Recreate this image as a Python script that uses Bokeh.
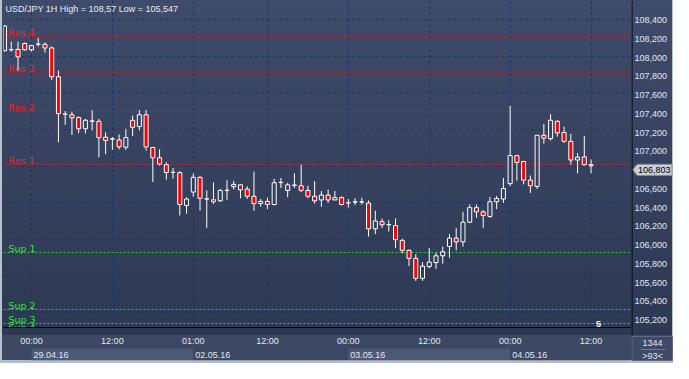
import numpy as np
from bokeh.plotting import figure
from bokeh.models import Range1d, FixedTicker, ColumnDataSource, Grid
from bokeh.layouts import column, row
from bokeh.embed import file_html
from bokeh.resources import INLINE
from bokeh.core.properties import value

# ---------------- data ----------------
opens = [108.060, 108.070, 108.074, 108.139, 108.070, 108.130, 108.130, 108.090, 107.775, 107.366,
         107.360, 107.330, 107.207, 107.290, 107.289, 107.115, 107.095, 107.085, 107.006, 107.300,
         107.231, 107.360, 107.003, 106.890, 106.815, 106.730, 106.728, 106.370, 106.516, 106.677,
         106.440, 106.432, 106.421, 106.534, 106.575, 106.595, 106.548, 106.470, 106.390, 106.414,
         106.380, 106.620, 106.534, 106.590, 106.585, 106.534, 106.470, 106.430, 106.483, 106.430,
         106.455, 106.397, 106.407, 106.407, 106.397, 106.115, 106.193, 106.159, 106.150, 105.989,
         105.880, 105.792, 105.574, 105.703, 105.746, 105.820, 105.922, 106.013, 105.972, 106.187,
         106.346, 106.300, 106.250, 106.410, 106.440, 106.608, 106.914, 106.850, 106.646, 106.578,
         107.136, 107.100, 107.289, 107.166, 107.070, 106.866, 106.900, 106.815]
highs = [108.340, 108.160, 108.159, 108.150, 108.125, 108.200, 108.150, 108.105, 107.843, 107.400,
         107.394, 107.343, 107.315, 107.410, 107.315, 107.170, 107.118, 107.146, 107.207, 107.350,
         107.410, 107.410, 107.009, 106.983, 106.840, 106.780, 106.744, 106.458, 106.720, 106.687,
         106.534, 106.620, 106.550, 106.646, 106.636, 106.600, 106.580, 106.740, 106.440, 106.455,
         106.660, 106.670, 106.618, 106.720, 106.815, 106.585, 106.636, 106.527, 106.544, 106.527,
         106.470, 106.440, 106.450, 106.455, 106.425, 106.312, 106.227, 106.210, 106.227, 106.006,
         105.887, 105.836, 105.751, 105.904, 105.853, 105.920, 106.057, 106.125, 106.300, 106.380,
         106.380, 106.320, 106.465, 106.475, 106.670, 107.458, 106.920, 106.856, 106.697, 107.136,
         107.258, 107.366, 107.300, 107.230, 107.152, 106.942, 107.129, 106.873]
lows = [108.050, 108.050, 107.843, 108.060, 108.050, 108.105, 108.040, 107.740, 107.060, 107.250,
        107.140, 107.159, 107.156, 107.190, 106.897, 106.930, 106.976, 106.983, 106.976, 107.129,
        107.190, 106.968, 106.626, 106.805, 106.652, 106.662, 106.260, 106.278, 106.465, 106.312,
        106.125, 106.387, 106.406, 106.432, 106.544, 106.448, 106.440, 106.312, 106.356, 106.330,
        106.370, 106.560, 106.460, 106.560, 106.516, 106.448, 106.390, 106.356, 106.397, 106.430,
        106.370, 106.346, 106.373, 106.380, 106.030, 106.057, 106.125, 106.085, 105.904, 105.846,
        105.707, 105.547, 105.547, 105.683, 105.677, 105.734, 105.800, 105.880, 105.920, 106.177,
        106.234, 106.125, 106.234, 106.330, 106.397, 106.580, 106.640, 106.600, 106.506, 106.550,
        107.044, 107.078, 107.121, 107.054, 106.815, 106.720, 106.805, 106.720]
closes = [108.330, 108.072, 107.993, 108.070, 108.115, 108.132, 108.090, 107.775, 107.373, 107.368,
          107.326, 107.207, 107.300, 107.292, 107.110, 107.080, 107.097, 107.010, 107.111, 107.223,
          107.360, 107.009, 106.890, 106.822, 106.730, 106.732, 106.380, 106.440, 106.677, 106.448,
          106.442, 106.410, 106.534, 106.536, 106.600, 106.540, 106.470, 106.390, 106.414, 106.380,
          106.618, 106.622, 106.595, 106.592, 106.534, 106.470, 106.420, 106.483, 106.430, 106.455,
          106.380, 106.399, 106.409, 106.409, 106.115, 106.200, 106.159, 106.161, 105.996, 105.880,
          105.792, 105.574, 105.707, 105.751, 105.820, 105.864, 106.013, 105.972, 106.187, 106.346,
          106.300, 106.260, 106.410, 106.445, 106.555, 106.914, 106.840, 106.646, 106.585, 107.136,
          107.105, 107.300, 107.162, 107.070, 106.866, 106.897, 106.815, 106.803]

tick_bars = [4, 16, 28, 39, 51, 63, 75, 87]
tick_labels = ["00:00", "12:00", "01:00", "12:00", "00:00", "12:00", "00:00", "12:00"]
day_labels = ["29.04.16", "02.05.16", "03.05.16", "04.05.16"]
day_start_bars = [4, 28, 51, 75]

res_names = ["Res 4", "Res 3", "Res 2", "Res 1"]
res_levels = [108.220, 107.826, 107.400, 106.822]
sup_names = ["Sup 1", "Sup 2", "Sup 3", "Sup 4"]
sup_levels = [105.860, 105.230, 105.085, 104.990]

price_ticks = [105.2, 105.4, 105.6, 105.8, 106.0, 106.2, 106.4, 106.6, 106.8,
               107.0, 107.2, 107.4, 107.6, 107.8, 108.0, 108.2, 108.4]
grid_prices = [105.2, 105.6, 106.0, 106.4, 106.8, 107.2, 107.6, 108.0, 108.4]

title_text = "USD/JPY 1H High = 108,57 Low = 105,547"
bars_total = "1344"
bars_visible = ">93<"
marker_text = "5"

# ---------------- layout constants ----------------
W_MAIN = 631      # left border + plot frame
W_SCALE = 42      # price scale column
H_MAIN = 348      # frame + time row
FRAME_H = 335
H_DATE = 15
LEFT = 3
x_lo, x_hi = -0.15, 93.0
y_lo, y_hi = 105.037, 108.608

TXT = "#e2e7f0"
FONT = "Liberation Sans"
GRID = "#1d3663"


def fmt(v):
    return f"{v:.3f}".replace(".", ",")


# ---------------- main chart ----------------
p = figure(width=W_MAIN, height=H_MAIN, x_range=Range1d(x_lo, x_hi), y_range=Range1d(y_lo, y_hi),
           output_backend="svg", toolbar_location=None, y_axis_type=None,
           min_border_left=LEFT, min_border_right=0, min_border_top=0, min_border_bottom=13)
p.background_fill_alpha = 0
p.border_fill_alpha = 0
p.outline_line_color = None
p.styles = {"background": "linear-gradient(to right, #b9c1cd 0px, #b9c1cd 2px, transparent 2px), "
                          "linear-gradient(to bottom, #3f4b6a 0px, #2d3853 335px, #3c4864 335px, #3c4864 348px)"}

xa = p.xaxis[0]
xa.ticker = FixedTicker(ticks=tick_bars)
xa.major_label_overrides = {b: t for b, t in zip(tick_bars, tick_labels)}
xa.axis_line_color = "black"
xa.major_tick_line_color = None
xa.minor_tick_line_color = None
xa.major_label_text_color = TXT
xa.major_label_text_font = FONT
xa.major_label_text_font_size = "9px"
xa.major_label_standoff = 2

p.xgrid.grid_line_color = GRID
p.xgrid.grid_line_dash = "3 3"
p.add_layout(Grid(dimension=1, ticker=FixedTicker(ticks=grid_prices),
                  grid_line_color=GRID, grid_line_dash="3 3"))

# support / resistance
p.hspan(y=res_levels, line_color="#d21a1a", line_dash="2 2", line_width=1)
p.hspan(y=sup_levels, line_color="#2ccf2c", line_dash="2 2", line_width=1)
p.text(x=[x_lo] * len(res_levels), y=res_levels, text=res_names, x_offset=5, y_offset=-4,
       text_font=value("DejaVu Sans"), text_font_size="9.5px", text_color="#ff1a1a",
       text_baseline="alphabetic")
p.text(x=[x_lo] * len(sup_levels), y=sup_levels, text=sup_names, x_offset=5, y_offset=-4,
       text_font=value("DejaVu Sans"), text_font_size="9.5px", text_color="#22f022",
       text_baseline="alphabetic")

# candles
o = np.array(opens); c = np.array(closes); h = np.array(highs); l = np.array(lows)
idx = np.arange(len(o))
top = np.maximum(o, c)
bot = np.minimum(o, c)
src = ColumnDataSource(dict(x=idx, top=top, bot=bot, high=h, low=l,
                            alpha=np.where(c >= o, 0.0, 1.0)))
p.segment(x0="x", y0="high", x1="x", y1="top", source=src, line_color="white", line_width=1)
p.segment(x0="x", y0="bot", x1="x", y1="low", source=src, line_color="white", line_width=1)
p.vbar(x="x", top="top", bottom="bot", width=0.6, source=src, fill_color="#ff0000",
       fill_alpha="alpha", line_color="white", line_width=1)

# title and marker
p.text(x=[x_lo], y=[y_hi], text=[title_text], x_offset=2, y_offset=3, text_baseline="top",
       text_font=value(FONT), text_font_size="9px", text_color="#e8ecf4")
p.text(x=[x_hi], y=[y_lo], text=[marker_text], x_offset=-33, y_offset=-1, text_baseline="bottom",
       text_align="center", text_font=value(FONT), text_font_size="9px", text_font_style="bold",
       text_color="white")

# ---------------- date strip ----------------
q = figure(width=W_MAIN, height=H_DATE, x_range=p.x_range, y_range=Range1d(0, 1),
           output_backend="svg", toolbar_location=None, x_axis_type=None, y_axis_type=None,
           min_border_left=LEFT, min_border_right=0, min_border_top=0, min_border_bottom=3)
q.background_fill_alpha = 0
q.border_fill_alpha = 0
q.outline_line_color = None
q.grid.visible = False
q.styles = {"background": "linear-gradient(to right, #b9c1cd 0px, #b9c1cd 2px, transparent 2px), "
                          "linear-gradient(to bottom, #3b4763 0px, #3b4763 12px, #b4bcc8 12px, #b4bcc8 15px)"}
band_right = day_start_bars[1:] + [x_hi]
band_colors = ["#4b5876" if i % 2 == 0 else "#3b4763" for i in range(len(day_start_bars))]
q.quad(left=day_start_bars, right=band_right, bottom=0, top=1, fill_color=band_colors, line_color=None)
q.text(x=day_start_bars, y=[0.5] * len(day_start_bars), text=day_labels, x_offset=2,
       text_baseline="middle", text_font=value(FONT), text_font_size="9px", text_color=TXT)

# ---------------- price scale column (shares the price scale of the chart) ----------------
H_SCALE = H_MAIN + H_DATE
ppu = FRAME_H / (y_hi - y_lo)            # pixels per price unit of the main frame
r_lo = y_hi - H_SCALE / ppu


def ry(px):                               # pixel row (from top) -> price coordinate in the column
    return y_hi - px / ppu


r = figure(width=W_SCALE, height=H_SCALE, x_range=Range1d(0, W_SCALE), y_range=Range1d(r_lo, y_hi),
           output_backend="svg", toolbar_location=None, x_axis_type=None, y_axis_type=None,
           min_border_left=0, min_border_right=0, min_border_top=0, min_border_bottom=0)
r.background_fill_alpha = 0
r.border_fill_alpha = 0
r.outline_line_color = None
r.grid.visible = False
r.styles = {"background": "linear-gradient(to left, #b9c1cd 0px, #b9c1cd 1px, transparent 1px), "
                          "linear-gradient(to bottom, #3f4b6a 0px, #2d3853 335px, #3c4864 335px, "
                          "#3c4864 360px, #b4bcc8 360px, #b4bcc8 363px)"}
# separator between chart and scale
r.segment(x0=[0.5], y0=[y_hi], x1=[0.5], y1=[y_lo], line_color="black", line_width=1)
# tick labels of the price scale
r.text(x=[3] * len(price_ticks), y=price_ticks, text=[fmt(t) for t in price_ticks],
       text_baseline="middle", text_font=value(FONT), text_font_size="9px", text_color=TXT)
# last price tag
last = closes[-1]
hh = 5.5 / ppu
r.patch(x=[1.5, 5.5, 40.5, 40.5, 5.5], y=[last, last + hh, last + hh, last - hh, last - hh],
        fill_color="#cbd0d8", line_color="#8a929e", line_width=1)
r.text(x=[6.5], y=[last], text=[fmt(last)], text_baseline="middle",
       text_font=value(FONT), text_font_size="9px", text_color="black")
# bar counter box
r.quad(left=[0.5], right=[41], top=[ry(336)], bottom=[ry(360)], fill_color="#3e4a66",
       line_color="#5d6983", line_width=1)
r.segment(x0=[9], y0=[ry(349)], x1=[34], y1=[ry(349)], line_color="#6d7892", line_width=1)
r.text(x=[21], y=[ry(342.5)], text=[bars_total], text_align="center", text_baseline="middle",
       text_font=value(FONT), text_font_size="9px", text_color=TXT)
r.text(x=[21], y=[ry(355)], text=[bars_visible], text_align="center", text_baseline="middle",
       text_font=value(FONT), text_font_size="9px", text_color=TXT)

layout = row(column(p, q, spacing=0), r, spacing=0)
open("out.html", "w").write(file_html(layout, INLINE))
